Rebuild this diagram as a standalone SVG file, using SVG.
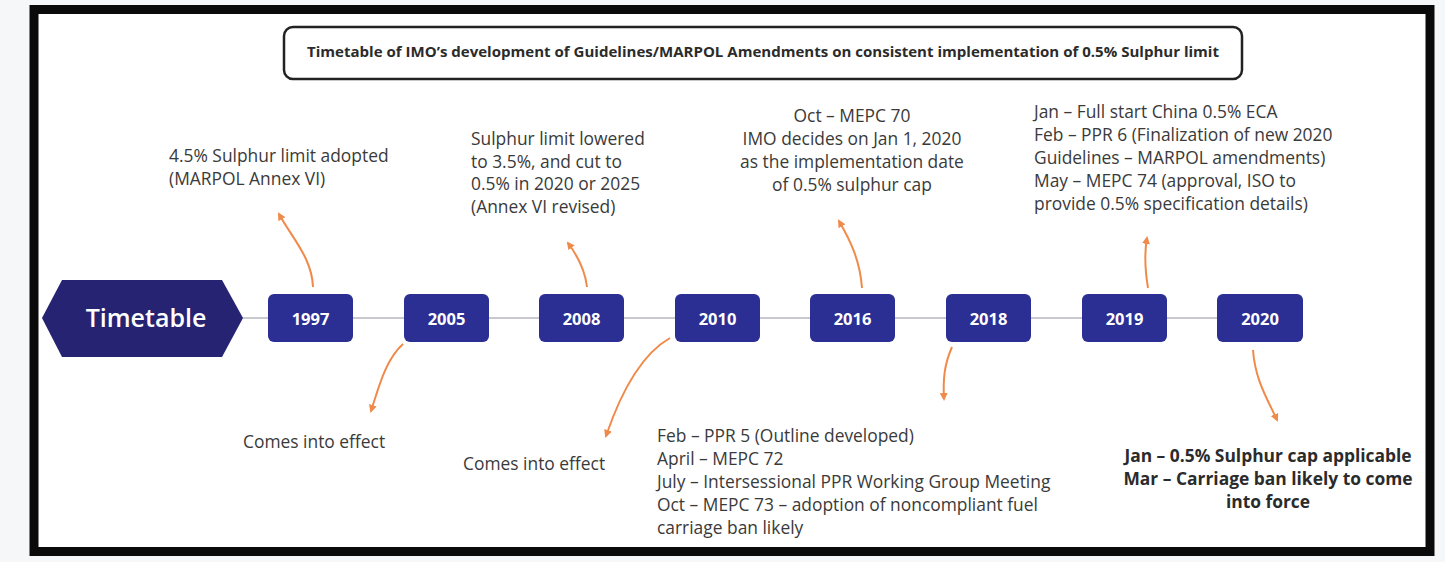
<svg xmlns="http://www.w3.org/2000/svg" width="1445" height="562" viewBox="0 0 1445 562">
<defs>
<style>
.t{font-family:"Open Sans","Noto Sans","Liberation Sans",sans-serif;font-size:17.4px;fill:#3a3a3a}
.b{font-weight:bold;fill:#2b2b2b}
.yr{font-family:"Open Sans","Noto Sans","Liberation Sans",sans-serif;font-size:16.5px;font-weight:bold;fill:#ffffff;text-anchor:middle}
.box{fill:#2b2f93}
.con{fill:none;stroke:#f08a4b;stroke-width:2;marker-end:url(#ah)}
</style>
<marker id="ah" markerWidth="8" markerHeight="8" refX="6" refY="4" orient="auto" markerUnits="userSpaceOnUse">
<path d="M0,0 L8,4 L0,8 z" fill="#f08a4b"/>
</marker>
</defs>
<rect x="0" y="0" width="1445" height="562" fill="#f6f7f9"/>
<rect x="34" y="9.5" width="1396" height="542" fill="#ffffff" stroke="#0a0a0a" stroke-width="9"/>
<g id="title">
<rect x="284" y="27" width="958" height="52" rx="9" fill="#ffffff" stroke="#222" stroke-width="2.5"/>
<text x="763" y="57" class="t b" text-anchor="middle" textLength="912" lengthAdjust="spacingAndGlyphs" style="font-size:13.5px">Timetable of IMO’s development of Guidelines/MARPOL Amendments on consistent implementation of 0.5% Sulphur limit</text>
</g>
<g id="timeline-line">
<line x1="242" y1="318" x2="1217" y2="318" stroke="#c8c9d0" stroke-width="2"/>
</g>
<g id="timetable">
<polygon points="42,318 62,280 222,280 243,318 222,357 62,357" fill="#262472"/>
<text x="146" y="327" font-family="'Open Sans','Noto Sans','Liberation Sans',sans-serif" font-size="25" font-weight="600" fill="#ffffff" text-anchor="middle">Timetable</text>
</g>
<g id="y1997"><rect class="box" x="268" y="294" width="85" height="48" rx="6"/><text class="yr" x="310.5" y="324.5">1997</text></g>
<g id="y2005"><rect class="box" x="404" y="294" width="85" height="48" rx="6"/><text class="yr" x="446.5" y="324.5">2005</text></g>
<g id="y2008"><rect class="box" x="539" y="294" width="85" height="48" rx="6"/><text class="yr" x="581.5" y="324.5">2008</text></g>
<g id="y2010"><rect class="box" x="675" y="294" width="85" height="48" rx="6"/><text class="yr" x="717.5" y="324.5">2010</text></g>
<g id="y2016"><rect class="box" x="810" y="294" width="85" height="48" rx="6"/><text class="yr" x="852.5" y="324.5">2016</text></g>
<g id="y2018"><rect class="box" x="946" y="294" width="85" height="48" rx="6"/><text class="yr" x="988.5" y="324.5">2018</text></g>
<g id="y2019"><rect class="box" x="1082" y="294" width="85" height="48" rx="6"/><text class="yr" x="1124.5" y="324.5">2019</text></g>
<g id="y2020"><rect class="box" x="1217" y="294" width="86" height="48" rx="6"/><text class="yr" x="1260" y="324.5">2020</text></g>
<g id="connectors">
<path class="con" d="M313,287 C312,258 292,238 279,214"/>
<path class="con" d="M587,287 C585,270 577,255 568,243"/>
<path class="con" d="M862,288 C860,260 850,240 839,221"/>
<path class="con" d="M1148,288 C1145,270 1144,255 1147,238"/>
<path class="con" d="M403,344 C385,360 378,390 371,411"/>
<path class="con" d="M670,338 C640,355 620,395 606,436"/>
<path class="con" d="M952,347 C944,365 943,380 944,399"/>
<path class="con" d="M1253,350 C1255,380 1268,400 1277,420"/>
</g>
<g id="note1997"><text class="t" x="169" y="162">4.5% Sulphur limit adopted</text><text class="t" x="169" y="185">(MARPOL Annex VI)</text></g>
<g id="note2008"><text class="t" x="471" y="145">Sulphur limit lowered</text><text class="t" x="471" y="167.5">to 3.5%, and cut to</text><text class="t" x="471" y="190">0.5% in 2020 or 2025</text><text class="t" x="471" y="212.5">(Annex VI revised)</text></g>
<g id="note2016" text-anchor="middle"><text class="t" x="852" y="122">Oct – MEPC 70</text><text class="t" x="852" y="145">IMO decides on Jan 1, 2020</text><text class="t" x="852" y="168">as the implementation date</text><text class="t" x="852" y="191">of 0.5% sulphur cap</text></g>
<g id="note2019"><text class="t" x="1034" y="118">Jan – Full start China 0.5% ECA</text><text class="t" x="1034" y="141">Feb – PPR 6 (Finalization of new 2020</text><text class="t" x="1034" y="164">Guidelines – MARPOL amendments)</text><text class="t" x="1034" y="187">May – MEPC 74 (approval, ISO to</text><text class="t" x="1034" y="210">provide 0.5% specification details)</text></g>
<g id="note2005"><text class="t" x="243" y="448">Comes into effect</text></g>
<g id="note2010"><text class="t" x="463" y="470">Comes into effect</text></g>
<g id="note2018"><text class="t" x="657" y="442">Feb – PPR 5 (Outline developed)</text><text class="t" x="657" y="465">April – MEPC 72</text><text class="t" x="657" y="488">July – Intersessional PPR Working Group Meeting</text><text class="t" x="657" y="511">Oct – MEPC 73 – adoption of noncompliant fuel</text><text class="t" x="657" y="534">carriage ban likely</text></g>
<g id="note2020" text-anchor="middle"><text class="t b" x="1268" y="462">Jan – 0.5% Sulphur cap applicable</text><text class="t b" x="1268" y="485">Mar – Carriage ban likely to come</text><text class="t b" x="1268" y="508">into force</text></g>
</svg>
